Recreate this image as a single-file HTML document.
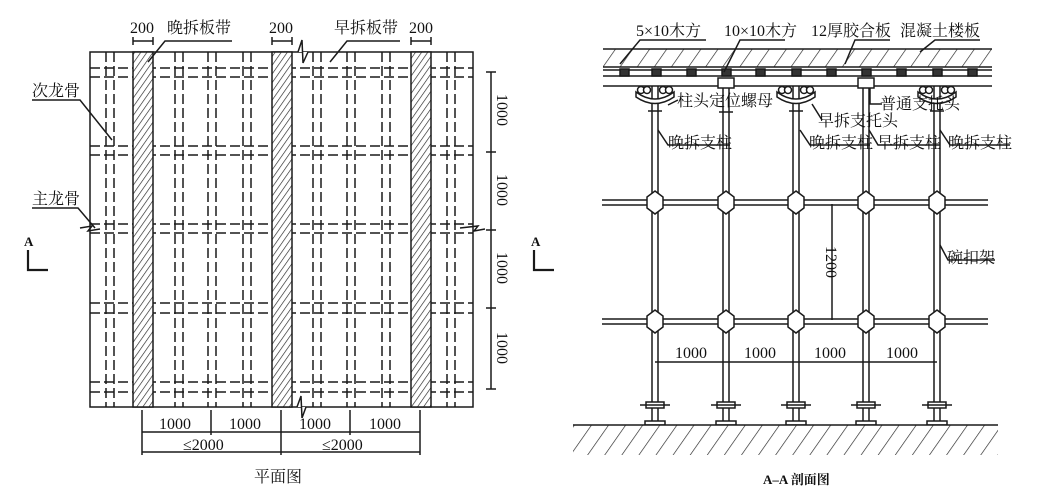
<!DOCTYPE html>
<html><head><meta charset="utf-8"><style>
html,body{margin:0;padding:0;background:#fff;}
svg{display:block;font-family:"Liberation Serif","Noto Serif CJK SC","Noto Sans CJK SC",serif;}
</style></head><body>
<svg width="1054" height="500" viewBox="0 0 1054 500" xmlns="http://www.w3.org/2000/svg">
<defs>
<pattern id="h" patternUnits="userSpaceOnUse" width="5" height="5" patternTransform="rotate(35)">
<rect width="5" height="5" fill="#fff"/><line x1="0" y1="0" x2="0" y2="5" stroke="#222" stroke-width="1.3"/></pattern>
<pattern id="h2" patternUnits="userSpaceOnUse" width="14" height="14" patternTransform="rotate(35)">
<rect width="14" height="14" fill="#fff"/><line x1="0" y1="0" x2="0" y2="14" stroke="#222" stroke-width="1.3"/></pattern>
</defs>
<g stroke="#1a1a1a" fill="none" stroke-width="1.5">
<!-- LEFT PLAN -->
<rect x="90" y="52" width="383" height="355"/>
<g stroke-dasharray="10,4">
<line x1="106" y1="52" x2="106" y2="407"/><line x1="114" y1="52" x2="114" y2="407"/>
<line x1="175" y1="52" x2="175" y2="407"/><line x1="183" y1="52" x2="183" y2="407"/>
<line x1="208" y1="52" x2="208" y2="407"/><line x1="216" y1="52" x2="216" y2="407"/>
<line x1="243" y1="52" x2="243" y2="407"/><line x1="251" y1="52" x2="251" y2="407"/>
<line x1="313" y1="52" x2="313" y2="407"/><line x1="321" y1="52" x2="321" y2="407"/>
<line x1="347" y1="52" x2="347" y2="407"/><line x1="355" y1="52" x2="355" y2="407"/>
<line x1="382" y1="52" x2="382" y2="407"/><line x1="390" y1="52" x2="390" y2="407"/>
<line x1="447" y1="52" x2="447" y2="407"/><line x1="455" y1="52" x2="455" y2="407"/>
<line x1="90" y1="68" x2="473" y2="68"/><line x1="90" y1="77" x2="473" y2="77"/>
<line x1="90" y1="146" x2="473" y2="146"/><line x1="90" y1="155" x2="473" y2="155"/>
<line x1="90" y1="224" x2="473" y2="224"/><line x1="90" y1="233" x2="473" y2="233"/>
<line x1="90" y1="303" x2="473" y2="303"/><line x1="90" y1="313" x2="473" y2="313"/>
<line x1="90" y1="382" x2="473" y2="382"/><line x1="90" y1="392" x2="473" y2="392"/>
</g>
<rect x="133" y="52" width="20" height="355" fill="url(#h)"/>
<rect x="272" y="52" width="20" height="355" fill="url(#h)"/>
<rect x="411" y="52" width="20" height="355" fill="url(#h)"/>
<line x1="133" y1="41" x2="153" y2="41"/><line x1="133" y1="37" x2="133" y2="45"/><line x1="153" y1="37" x2="153" y2="45"/>
<line x1="272" y1="41" x2="292" y2="41"/><line x1="272" y1="37" x2="272" y2="45"/><line x1="292" y1="37" x2="292" y2="45"/>
<line x1="411" y1="41" x2="431" y2="41"/><line x1="411" y1="37" x2="411" y2="45"/><line x1="431" y1="37" x2="431" y2="45"/>
<polyline points="148,62 165,41 232,41"/>
<polyline points="330,62 347,41 400,41"/>
<polyline points="112,140 80,100 32,100"/>
<polyline points="95,228 78,208 32,208"/>
<path d="M298,52 L302,40 L303,63 L308,52" fill="#fff"/>
<path d="M297,407 L301,396 L302,418 L306,407" fill="#fff"/>
<path d="M80,228 L92,226 L88,231 L100,229"/>
<path d="M460,228 L478,226 L474,231 L485,229"/>
<line x1="491" y1="72" x2="491" y2="389"/>
<line x1="486" y1="72" x2="496" y2="72"/><line x1="486" y1="152" x2="496" y2="152"/><line x1="486" y1="230" x2="496" y2="230"/><line x1="486" y1="308" x2="496" y2="308"/><line x1="486" y1="389" x2="496" y2="389"/>
<line x1="142" y1="410" x2="142" y2="455"/><line x1="211" y1="410" x2="211" y2="435"/><line x1="281" y1="410" x2="281" y2="455"/><line x1="350" y1="410" x2="350" y2="435"/><line x1="420" y1="410" x2="420" y2="455"/>
<line x1="142" y1="432" x2="420" y2="432"/><line x1="142" y1="452" x2="420" y2="452"/>
<polyline points="28,250 28,270 48,270" stroke-width="2.2"/>
<polyline points="534,250 534,270 554,270" stroke-width="2.2"/>

<!-- RIGHT SECTION -->
<rect x="603" y="49" width="389" height="18" fill="url(#h2)" stroke="none"/>
<line x1="603" y1="49" x2="992" y2="49"/>
<line x1="603" y1="67" x2="992" y2="67"/><line x1="603" y1="70" x2="992" y2="70"/>
<line x1="603" y1="76" x2="992" y2="76"/><line x1="603" y1="86" x2="992" y2="86"/>
<g fill="#333">
<rect x="620" y="69" width="9" height="7"/><rect x="652" y="69" width="9" height="7"/><rect x="687" y="69" width="9" height="7"/><rect x="722" y="69" width="9" height="7"/><rect x="756" y="69" width="9" height="7"/><rect x="792" y="69" width="9" height="7"/><rect x="827" y="69" width="9" height="7"/><rect x="862" y="69" width="9" height="7"/><rect x="897" y="69" width="9" height="7"/><rect x="933" y="69" width="9" height="7"/><rect x="968" y="69" width="9" height="7"/>
</g>
<line x1="652" y1="86" x2="652" y2="423"/><line x1="658" y1="86" x2="658" y2="423"/>
<line x1="723" y1="86" x2="723" y2="423"/><line x1="729" y1="86" x2="729" y2="423"/>
<line x1="793" y1="86" x2="793" y2="423"/><line x1="799" y1="86" x2="799" y2="423"/>
<line x1="863" y1="86" x2="863" y2="423"/><line x1="869" y1="86" x2="869" y2="423"/>
<line x1="934" y1="86" x2="934" y2="423"/><line x1="940" y1="86" x2="940" y2="423"/>
<g fill="#fff">
<path d="M636,92 Q655,106 674,92 L674,97 Q655,110 636,97 Z"/>
<circle cx="641" cy="90" r="3.5"/><circle cx="647" cy="90" r="3.5"/><circle cx="663" cy="90" r="3.5"/><circle cx="669" cy="90" r="3.5"/>
<path d="M777,92 Q796,106 815,92 L815,97 Q796,110 777,97 Z"/>
<circle cx="782" cy="90" r="3.5"/><circle cx="788" cy="90" r="3.5"/><circle cx="804" cy="90" r="3.5"/><circle cx="810" cy="90" r="3.5"/>
<path d="M918,92 Q937,106 956,92 L956,97 Q937,110 918,97 Z"/>
<circle cx="923" cy="90" r="3.5"/><circle cx="929" cy="90" r="3.5"/><circle cx="945" cy="90" r="3.5"/><circle cx="951" cy="90" r="3.5"/>
<rect x="718" y="78" width="16" height="10"/><rect x="858" y="78" width="16" height="10"/>
</g>
<line x1="648" y1="111" x2="662" y2="111"/><line x1="719" y1="112" x2="733" y2="112"/><line x1="789" y1="111" x2="803" y2="111"/><line x1="930" y1="111" x2="944" y2="111"/>
<line x1="602" y1="200" x2="988" y2="200"/><line x1="602" y1="205" x2="988" y2="205"/>
<line x1="602" y1="319" x2="988" y2="319"/><line x1="602" y1="324" x2="988" y2="324"/>
<g fill="#fff">
<path d="M655,191 L663,197 L663,208 L655,214 L647,208 L647,197 Z"/>
<path d="M726,191 L734,197 L734,208 L726,214 L718,208 L718,197 Z"/>
<path d="M796,191 L804,197 L804,208 L796,214 L788,208 L788,197 Z"/>
<path d="M866,191 L874,197 L874,208 L866,214 L858,208 L858,197 Z"/>
<path d="M937,191 L945,197 L945,208 L937,214 L929,208 L929,197 Z"/>
<path d="M655,310 L663,316 L663,327 L655,333 L647,327 L647,316 Z"/>
<path d="M726,310 L734,316 L734,327 L726,333 L718,327 L718,316 Z"/>
<path d="M796,310 L804,316 L804,327 L796,333 L788,327 L788,316 Z"/>
<path d="M866,310 L874,316 L874,327 L866,333 L858,327 L858,316 Z"/>
<path d="M937,310 L945,316 L945,327 L937,333 L929,327 L929,316 Z"/>
</g>
<line x1="832" y1="204" x2="832" y2="320"/>
<line x1="655" y1="362" x2="937" y2="362"/>
<g fill="#fff">
<rect x="646" y="402" width="18" height="6"/><rect x="717" y="402" width="18" height="6"/><rect x="787" y="402" width="18" height="6"/><rect x="857" y="402" width="18" height="6"/><rect x="928" y="402" width="18" height="6"/>
<rect x="645" y="421" width="20" height="4"/><rect x="716" y="421" width="20" height="4"/><rect x="786" y="421" width="20" height="4"/><rect x="856" y="421" width="20" height="4"/><rect x="927" y="421" width="20" height="4"/>
</g>
<line x1="640" y1="405" x2="670" y2="405"/><line x1="711" y1="405" x2="741" y2="405"/><line x1="781" y1="405" x2="811" y2="405"/><line x1="851" y1="405" x2="881" y2="405"/><line x1="922" y1="405" x2="952" y2="405"/>
<rect x="573" y="425" width="425" height="30" fill="url(#h2)" stroke="none"/>
<line x1="573" y1="425" x2="998" y2="425"/>
<polyline points="620,64 640,40 706,40"/>
<polyline points="724,72 740,40 785,40"/>
<polyline points="845,64 855,40 890,40"/>
<polyline points="920,52 935,40 980,40"/>
<polyline points="678,100 668,105"/>
<polyline points="870,88 870,104 882,104"/>
<polyline points="812,104 822,120"/>
<polyline points="658,130 668,145 730,145"/>
<polyline points="800,130 810,145 870,145"/>
<polyline points="869,130 878,145 940,145"/>
<polyline points="940,130 950,145 1010,145"/>
<polyline points="940,245 948,260 995,260"/>
</g>
<g fill="#111" font-size="16">
<text x="130" y="33">200</text><text x="167" y="33">晚拆板带</text>
<text x="269" y="33">200</text><text x="334" y="33">早拆板带</text><text x="409" y="33">200</text>
<text x="32" y="96">次龙骨</text><text x="32" y="204">主龙骨</text>
<text x="24" y="246" font-size="13" font-weight="bold">A</text>
<text x="531" y="246" font-size="13" font-weight="bold">A</text>
<text transform="translate(497,94) rotate(90)">1000</text>
<text transform="translate(497,174) rotate(90)">1000</text>
<text transform="translate(497,252) rotate(90)">1000</text>
<text transform="translate(497,332) rotate(90)">1000</text>
<text x="159" y="429">1000</text><text x="229" y="429">1000</text><text x="299" y="429">1000</text><text x="369" y="429">1000</text>
<text x="183" y="450">≤2000</text><text x="322" y="450">≤2000</text>
<text x="254" y="482">平面图</text>
<text x="636" y="36">5×10木方</text><text x="724" y="36">10×10木方</text>
<text x="811" y="36">12厚胶合板</text><text x="900" y="36">混凝土楼板</text>
<text x="677" y="106">柱头定位螺母</text><text x="880" y="109">普通支托头</text>
<text x="818" y="126">早拆支托头</text>
<text x="668" y="148">晚拆支柱</text><text x="809" y="148">晚拆支柱</text><text x="877" y="148">早拆支柱</text><text x="948" y="148">晚拆支柱</text>
<text x="947" y="263">碗扣架</text>
<text transform="translate(826,246) rotate(90)">1200</text>
<text x="675" y="358">1000</text><text x="744" y="358">1000</text><text x="814" y="358">1000</text><text x="886" y="358">1000</text>
<text x="763" y="484" font-size="13" font-weight="bold">A–A 剖面图</text>
</g>
</svg>
</body></html>
